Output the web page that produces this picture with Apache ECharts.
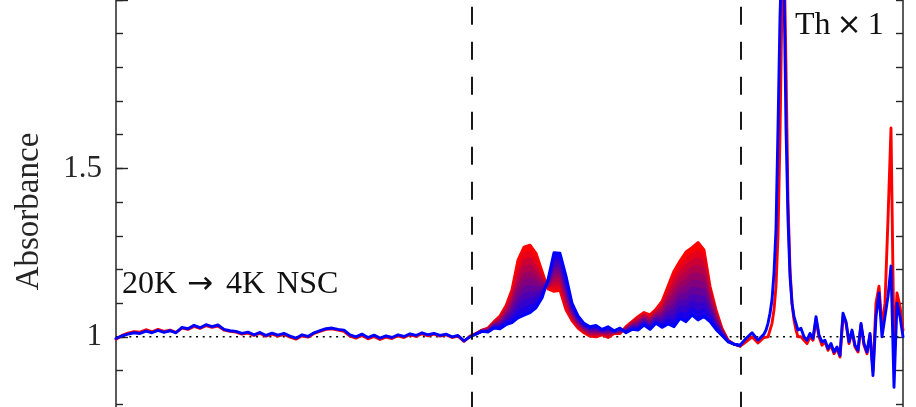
<!DOCTYPE html>
<html>
<head>
<meta charset="utf-8">
<script src="https://cdn.jsdelivr.net/npm/echarts@6/dist/echarts.min.js"></script>
<style>html,body{margin:0;padding:0;background:#fff}#c{width:916px;height:407px}</style>
</head>
<body>
<div id="c"></div>
<script>
// ---- data (x = channel position, y = absorbance) ----
const xFull = [0,6,12,18,24,30,36,42,48,54,60,66,72,78,84,90,96,102,108,114,120,126,132,138,144,150,156,162,168,174,180,186,192,198,204,210,216,222,228,234,240,246,252,258,264,270,276,282,288,294,300,306,312,318,324,330,336,342,348,354,360,366,372,378,384,390,396,402,408,414,420,426,432,438,444,450,456,462,468,474,480,486,492,498,504,510,516,522,528,534,540,546,552,558,564,570,576,582,588,594,600,606,612,618,624,630,636,642,648,
650,652,654,656,658,660,662,664,666,668,670,672,674,676,678,680,682,
685,688,691,694,697,700,703,706,709,712,715,718,721,724,727,730,733,736,739,742,745,748,751,754,757,760,763,766,769,772,775,778,781,784,787];

const xMid = [360,366,372,378,384,390,396,402,408,414,420,426,432,438,444,450,456,462,468,474,480,486,492,498,504,510,516,522,528,534,540,546,552,558,564,570,576,582,588,594,600,606,612,618,624];

const spec20K = [
0.993,1.004,1.011,1.015,1.014,1.021,1.015,1.022,1.016,1.020,
1.013,1.026,1.022,1.031,1.025,1.033,1.028,1.032,1.020,1.016,
1.014,1.008,1.011,1.004,1.010,1.002,1.008,1.002,1.007,0.999,
0.993,1.003,0.999,1.010,1.016,1.022,1.024,1.020,1.016,1.002,
0.996,1.004,0.994,1.001,0.992,0.999,0.995,1.003,0.998,1.006,
1.001,1.009,1.003,1.008,1.002,1.006,0.998,1.002,0.986,1.002,
1.010,1.020,1.026,1.045,1.062,1.092,1.140,1.228,1.266,1.272,
1.248,1.195,1.142,1.135,1.138,1.080,1.048,1.026,1.012,1.002,
1.000,1.006,0.998,1.010,1.010,1.030,1.045,1.060,1.072,1.065,
1.082,1.105,1.150,1.195,1.225,1.252,1.265,1.280,1.258,1.150,
1.080,1.025,0.990,0.978,0.972,
0.985,1.000,0.982,0.998,
1.000,1.000,1.020,1.040,1.080,1.150,1.300,1.600,2.000,2.150,1.800,1.400,1.200,1.100,1.050,1.020,1.000,
1.000,0.990,0.980,1.000,0.990,1.050,1.000,0.975,0.985,0.960,0.975,0.950,0.965,0.940,1.060,1.040,0.980,1.015,0.970,0.955,1.035,0.975,0.950,1.005,0.900,1.100,1.150,1.030,1.100,1.350,1.620,0.960,1.130,1.090,1.020];

const spec4K = [
0.995,1.003,1.008,1.012,1.010,1.017,1.012,1.019,1.013,1.018,
1.012,1.028,1.024,1.034,1.027,1.036,1.030,1.035,1.022,1.018,
1.016,1.010,1.014,1.006,1.013,1.004,1.011,1.005,1.010,1.002,
0.996,1.006,1.001,1.012,1.018,1.024,1.026,1.022,1.020,1.006,
1.000,1.008,0.998,1.005,0.996,1.003,0.998,1.006,1.001,1.009,
1.004,1.012,1.006,1.010,1.004,1.008,1.000,1.004,0.988,1.000,
1.008,1.016,1.014,1.026,1.024,1.036,1.042,1.056,1.064,1.072,
1.086,1.115,1.170,1.250,1.248,1.180,1.100,1.062,1.040,1.030,
1.034,1.022,1.030,1.018,1.026,1.012,1.022,1.020,1.035,1.022,
1.040,1.028,1.038,1.030,1.055,1.045,1.065,1.050,1.060,1.045,
1.022,1.004,0.985,0.978,0.975,
0.995,1.012,0.990,1.008,
1.020,1.040,1.070,1.110,1.190,1.320,1.620,1.950,2.150,2.050,1.620,1.350,1.180,1.100,1.060,1.040,1.020,
1.025,1.000,0.990,1.010,0.995,1.060,1.005,0.985,0.990,0.965,0.980,0.955,0.970,0.945,1.070,1.045,0.985,1.020,0.975,0.960,1.040,0.980,0.955,1.010,0.885,1.060,1.130,1.000,1.060,1.120,1.210,0.850,1.100,1.060,1.000];

const specMid1 = [1.010,1.020,1.025,1.043,1.058,1.086,1.130,1.199,1.248,1.252,1.225,1.183,1.145,1.147,1.149,1.090,1.053,1.030,1.015,1.005,1.003,1.008,1.001,1.011,1.012,1.028,1.043,1.056,1.068,1.061,1.078,1.097,1.139,1.179,1.208,1.231,1.245,1.257,1.238,1.140,1.074,1.023,0.990,0.978,0.972];
const specMid2 = [1.010,1.019,1.024,1.041,1.054,1.081,1.120,1.183,1.227,1.232,1.209,1.175,1.148,1.158,1.160,1.100,1.058,1.033,1.018,1.008,1.007,1.009,1.004,1.012,1.013,1.026,1.040,1.052,1.065,1.056,1.074,1.090,1.128,1.162,1.191,1.211,1.225,1.234,1.218,1.129,1.068,1.021,0.989,0.978,0.973];
const specMid3 = [1.009,1.019,1.022,1.039,1.051,1.075,1.111,1.167,1.207,1.212,1.194,1.168,1.150,1.170,1.171,1.110,1.064,1.037,1.020,1.010,1.010,1.011,1.008,1.012,1.015,1.025,1.038,1.048,1.061,1.052,1.069,1.082,1.116,1.146,1.174,1.190,1.205,1.211,1.199,1.119,1.063,1.019,0.989,0.978,0.973];
const specMid4 = [1.009,1.018,1.021,1.037,1.047,1.070,1.101,1.151,1.186,1.192,1.178,1.160,1.153,1.181,1.182,1.120,1.069,1.040,1.023,1.013,1.014,1.012,1.011,1.013,1.016,1.023,1.036,1.044,1.057,1.048,1.065,1.074,1.105,1.129,1.157,1.169,1.185,1.188,1.179,1.108,1.057,1.017,0.988,0.978,0.973];
const specMid5 = [1.009,1.018,1.020,1.036,1.043,1.064,1.091,1.136,1.166,1.172,1.163,1.153,1.156,1.193,1.193,1.130,1.074,1.044,1.026,1.016,1.017,1.014,1.014,1.014,1.018,1.021,1.034,1.040,1.054,1.044,1.061,1.067,1.094,1.113,1.140,1.149,1.165,1.165,1.159,1.098,1.051,1.015,0.988,0.978,0.974];
const specMid6 = [1.009,1.018,1.019,1.034,1.039,1.058,1.081,1.120,1.146,1.152,1.148,1.145,1.159,1.204,1.204,1.140,1.079,1.048,1.029,1.019,1.020,1.016,1.017,1.015,1.020,1.019,1.031,1.036,1.050,1.039,1.057,1.059,1.083,1.096,1.123,1.128,1.145,1.142,1.139,1.087,1.045,1.012,0.987,0.978,0.974];
const specMid7 = [1.009,1.017,1.018,1.032,1.035,1.053,1.071,1.104,1.125,1.132,1.132,1.138,1.162,1.216,1.215,1.150,1.084,1.051,1.032,1.022,1.024,1.017,1.020,1.016,1.021,1.017,1.029,1.032,1.046,1.035,1.053,1.051,1.072,1.080,1.106,1.107,1.125,1.119,1.119,1.077,1.039,1.010,0.987,0.978,0.974];
const specMid8 = [1.008,1.017,1.016,1.030,1.032,1.047,1.062,1.088,1.105,1.112,1.117,1.130,1.164,1.227,1.226,1.160,1.090,1.055,1.034,1.024,1.027,1.019,1.024,1.016,1.023,1.016,1.027,1.028,1.042,1.031,1.048,1.043,1.060,1.063,1.089,1.086,1.105,1.096,1.100,1.066,1.034,1.008,0.986,0.978,0.974];
const specMid9 = [1.008,1.016,1.015,1.028,1.028,1.042,1.052,1.072,1.084,1.092,1.101,1.123,1.167,1.239,1.237,1.170,1.095,1.058,1.037,1.027,1.031,1.020,1.027,1.017,1.024,1.014,1.024,1.024,1.039,1.026,1.044,1.036,1.049,1.047,1.072,1.066,1.085,1.073,1.080,1.056,1.028,1.006,0.986,0.978,0.975];

const dividerX = [356, 625];
const referenceLevel = 1;
const yTicks = [0.8,0.9,1.0,1.1,1.2,1.3,1.4,1.5,1.6,1.7,1.8,1.9,2.0];
const yMajorTicks = [1, 1.5, 2];
const yTickLabels = [1, 1.5];
// x ranges where the spectra are ordered (band between them is shaded);
// 'down' = 20K above 4K, 'up' = 4K above 20K
const bandRanges = [[360, 432, 'down'], [432, 480, 'up'], [504, 612, 'down']];

// ---- build ----
const Y_MIN = 0.7916, Y_MAX = 2.0;
const axisCol = '#262626';
const font = 'Liberation Serif';
const zip = (xs, ys) => xs.map((x, i) => [x, ys[i]]);
const curves = [
  [xFull, spec20K], [xMid, specMid1], [xMid, specMid2], [xMid, specMid3], [xMid, specMid4],
  [xMid, specMid5], [xMid, specMid6], [xMid, specMid7], [xMid, specMid8], [xMid, specMid9],
  [xFull, spec4K]
];
const n = curves.length - 1;
const colorOf = i => 'rgb(' + Math.round(255 * (1 - i / n)) + ',0,' + Math.round(255 * i / n) + ')';
const series = [];
// shaded band between successive spectra
bandRanges.forEach(([a, b, dir]) => {
  const order = curves.map((c, i) => i);
  if (dir === 'up') order.reverse();
  order.forEach((i, k) => {
    const [xs, ys] = curves[i];
    const pts = zip(xs, ys).filter(p => p[0] >= a && p[0] <= b);
    series.push({
      type: 'line', data: pts, symbol: 'none', silent: true, z: 1,
      lineStyle: { width: 0 }, areaStyle: { color: colorOf(i), opacity: 1, origin: 'start' }
    });
    if (k === n) {
      series.push({
        type: 'line', data: pts, symbol: 'none', silent: true, z: 1,
        lineStyle: { width: 0 }, areaStyle: { color: '#fff', opacity: 1, origin: 'start' }
      });
    }
  });
});
series.push({
  type: 'line', data: [[0, referenceLevel], [787, referenceLevel]], symbol: 'none', silent: true,
  lineStyle: { color: '#000', width: 1.4, type: [2, 4.67] }, z: 2
});
curves.forEach(([xs, ys], i) => {
  const edge = (i === 0 || i === n);
  series.push({
    type: 'line', data: zip(xs, ys), symbol: 'none', silent: true,
    lineStyle: { color: colorOf(i), width: edge ? 2.9 : 2.4, join: 'round', cap: 'round' }, z: 3
  });
});
dividerX.forEach(x => {
  series.push({
    type: 'line', data: [[x, Y_MAX], [x, Y_MIN]], symbol: 'none', silent: true,
    lineStyle: { color: '#000', width: 1.8, type: [18, 17], dashOffset: 28.3 }, z: 4
  });
});

const baseY = {
  type: 'value', min: Y_MIN, max: Y_MAX, splitLine: { show: false },
  axisLine: { show: false }, axisLabel: { show: false }, axisTick: { show: false }
};
const chart = echarts.init(document.getElementById('c'), null, { renderer: 'canvas' });
const txtA = { fontFamily: font, fontSize: 32, fill: '#111' };
chart.setOption({
  animation: false,
  backgroundColor: '#fff',
  grid: { left: 116, right: 13, top: 0, bottom: 0 },
  xAxis: { type: 'value', min: 0, max: 787, show: false },
  yAxis: [
    Object.assign({}, baseY, {
      position: 'left',
      axisLine: { show: true, lineStyle: { color: axisCol, width: 1.5 } },
      axisTick: { show: true, inside: true, length: 7, customValues: yTicks, lineStyle: { color: axisCol, width: 1.4 } },
      name: 'Absorbance', nameLocation: 'middle', nameGap: 70,
      nameTextStyle: { fontFamily: font, fontSize: 33, color: axisCol, padding: [0, 16, 0, 0] }
    }),
    Object.assign({}, baseY, {
      position: 'left',
      axisTick: { show: true, inside: true, length: 12, customValues: yMajorTicks, lineStyle: { color: axisCol, width: 1.4 } },
      axisLabel: { show: true, customValues: yTickLabels, margin: 14, fontFamily: font, fontSize: 31, color: axisCol }
    }),
    Object.assign({}, baseY, {
      position: 'right',
      axisLine: { show: true, lineStyle: { color: axisCol, width: 1.5 } },
      axisTick: { show: true, inside: true, length: 7, customValues: yTicks, lineStyle: { color: axisCol, width: 1.4 } }
    })
  ],
  series: series,
  graphic: [
    { type: 'text', x: 122, y: 285, z: 10, style: {
        text: '{a|20K}{b|\u2192}{a|4K}{c|NSC}', verticalAlign: 'middle',
        rich: { a: txtA, b: { fontFamily: 'DejaVu Sans', fontSize: 31, fill: '#111', padding: [0, 13, 0, 10] },
                c: { fontFamily: font, fontSize: 32, fill: '#111', padding: [0, 0, 0, 11] } } } },
    { type: 'text', x: 795, y: 26, z: 10, style: {
        text: '{a|Th}{b|\u00d7}{a|1}', verticalAlign: 'middle',
        rich: { a: txtA, b: { fontFamily: 'DejaVu Sans', fontSize: 30, fill: '#111', padding: [0, 6, 0, 6] } } } }
  ]
});
</script>
</body>
</html>
